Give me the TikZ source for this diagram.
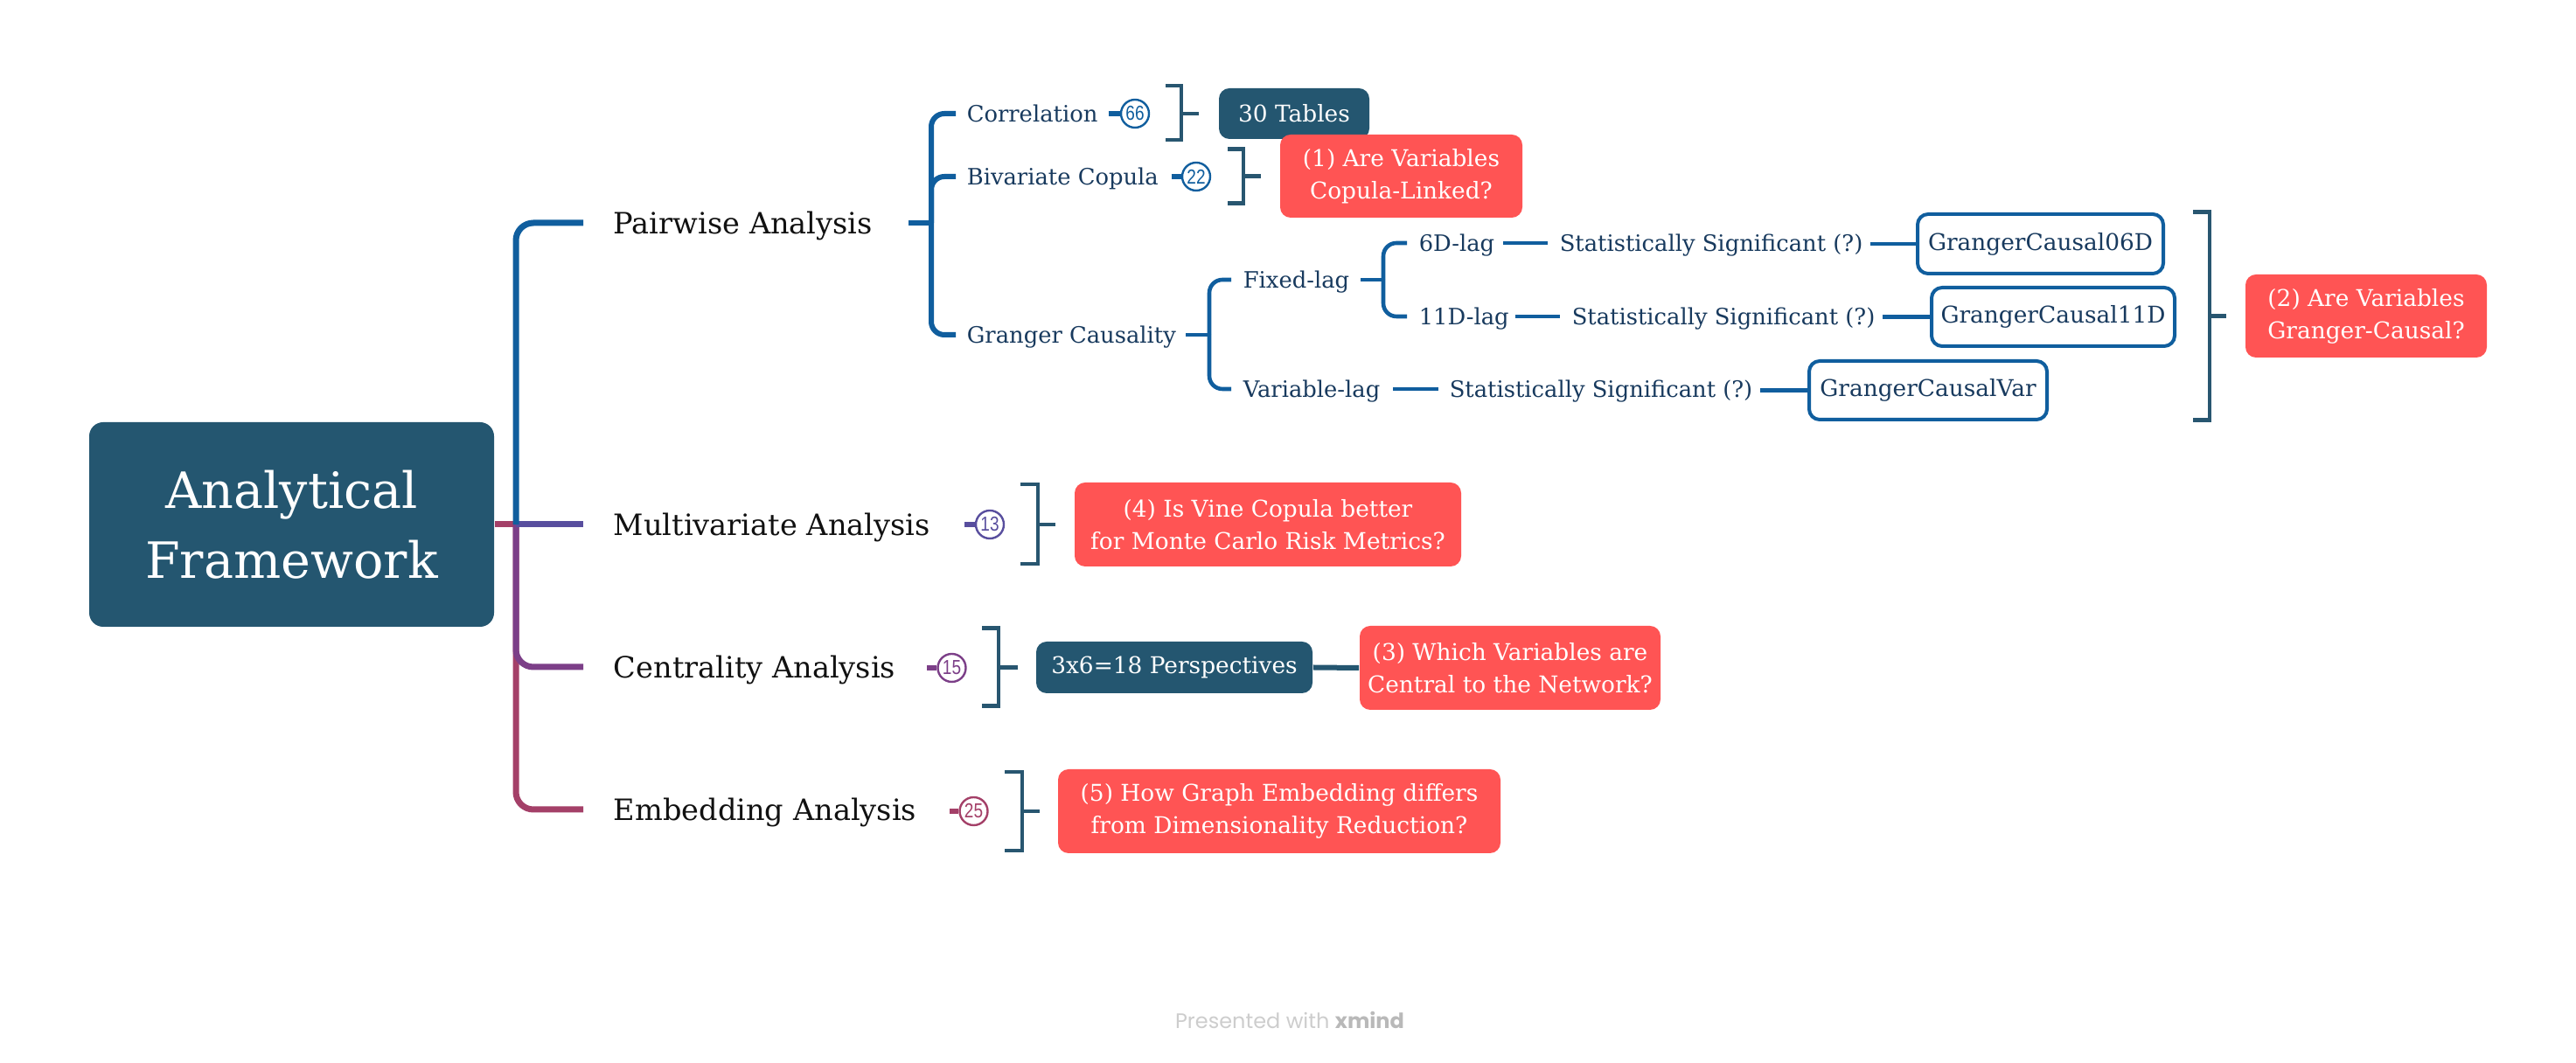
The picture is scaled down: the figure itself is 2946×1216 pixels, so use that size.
\documentclass[tikz,border=0pt]{standalone}
\usepackage{fontspec}
\setmainfont{DejaVu Serif}
\newfontfamily\badgefont{Liberation Sans}
\newfontfamily\footfont{Poppins}
\usetikzlibrary{calc}
\definecolor{cTeal}{RGB}{36,86,112}
\definecolor{cBlue}{RGB}{16,94,158}
\definecolor{cMul}{RGB}{88,78,158}
\definecolor{cCen}{RGB}{124,63,136}
\definecolor{cEmb}{RGB}{164,64,104}
\definecolor{cRed}{RGB}{255,84,84}
\definecolor{cBrk}{RGB}{40,86,112}
\definecolor{cSub}{RGB}{24,58,94}
\definecolor{cMain}{RGB}{17,17,17}
\definecolor{cFoot}{RGB}{205,205,205}
\definecolor{cFootB}{RGB}{185,185,185}
\newcommand\narrowdig[1]{\scalebox{0.82}[1]{#1}}
\begin{document}
\begin{tikzpicture}[x=0.25pt,y=-0.25pt,
  lbl/.style={anchor=west,inner sep=0pt,text depth=0pt},
  mainlbl/.style={lbl,text height=6.1pt,font=\fontsize{8.4pt}{10pt}\selectfont,text=cMain},
  sublbl/.style={lbl,text height=4.7pt,font=\fontsize{6.45pt}{8pt}\selectfont,text=cSub},
  darkbox/.style={fill=cTeal,rounded corners=3pt,text=white,inner sep=0pt,align=center,font=\fontsize{6.6pt}{9.25pt}\selectfont},
  redbox/.style={fill=cRed,rounded corners=3pt,text=white,inner sep=0pt,align=center,font=\fontsize{6.6pt}{9.25pt}\selectfont},
  outbox/.style={draw=cBlue,line width=1pt,fill=white,rounded corners=3pt,text=cSub,inner sep=0pt,align=center,font=\fontsize{6.6pt}{8pt}\selectfont},
  badge/.style={circle,draw,line width=0.6pt,fill=white,inner sep=0pt,minimum size=8pt,font=\badgefont\fontsize{5.8pt}{5.8pt}\selectfont},
  mainbr/.style={line width=1.75pt},
  subbr/.style={line width=1.5pt,draw=cBlue},
  gbr/.style={line width=1.15pt,draw=cBlue},
  brk/.style={line width=1.1pt,draw=cBrk},
  stub/.style={line width=1.5pt},
]
\useasboundingbox[fill=white] (0,0) rectangle (2946,1216);

% root
\node[fill=cTeal,rounded corners=4pt,minimum width=115.75pt,minimum height=58.5pt,inner sep=0pt,
  text=white,align=center,font=\fontsize{14.3pt}{20pt}\selectfont] (root) at (333.5,600) {Analytical\\Framework};

% main labels
\node[mainlbl] (pair) at (701,255) {Pairwise Analysis};
\node[mainlbl] (multi) at (701,600) {Multivariate Analysis};
\node[mainlbl] (cent) at (701,763) {Centrality Analysis};
\node[mainlbl] (emb) at (701,926) {Embedding Analysis};

% main branches
\coordinate (J) at (590,600);
\draw[mainbr,draw=cEmb] (root.east) -- (J);
\draw[mainbr,draw=cEmb,rounded corners=5pt] (J) |- ($(emb.west)+(-34,0)$);
\draw[mainbr,draw=cCen,rounded corners=5pt] (J) |- ($(cent.west)+(-34,0)$);
\draw[mainbr,draw=cMul] (J) -- ($(multi.west)+(-34,0)$);
\draw[mainbr,draw=cBlue,rounded corners=5pt] (J) |- ($(pair.west)+(-34,0)$);

% pairwise subtree
\node[sublbl] (corr) at (1105,130) {Correlation};
\node[sublbl] (biv) at (1105,202) {Bivariate Copula};
\node[sublbl] (gc) at (1105,383) {Granger Causality};
\coordinate (PJ) at (1065,255);
\draw[subbr] ($(PJ)+(-26,0)$) -- (PJ);
\draw[subbr,rounded corners=3.75pt] (PJ) |- ($(corr.west)+(-12,0)$);
\draw[subbr,rounded corners=3.75pt] (PJ) |- ($(biv.west)+(-12,0)$);
\draw[subbr,rounded corners=3.75pt] (PJ) |- ($(gc.west)+(-12,0)$);

% badges
\node[badge,draw=cBlue,text=cBlue] (b66) at (1298,130) {\narrowdig{66}};
\node[badge,draw=cBlue,text=cBlue] (b22) at (1368,202) {\narrowdig{22}};
\node[badge,draw=cMul,text=cMul] (b13) at (1132,600) {\narrowdig{13}};
\node[badge,draw=cCen,text=cCen] (b15) at (1088.5,764) {\narrowdig{15}};
\node[badge,draw=cEmb,text=cEmb] (b25) at (1113.5,928) {\narrowdig{25}};
\draw[stub,draw=cBlue] ($(b66.west)+(-13,0)$) -- (b66.west);
\draw[stub,draw=cBlue] ($(b22.west)+(-11,0)$) -- (b22.west);
\draw[stub,draw=cMul] ($(b13.west)+(-12,0)$) -- (b13.west);
\draw[stub,draw=cCen] ($(b15.west)+(-11,0)$) -- (b15.west);
\draw[stub,draw=cEmb] ($(b25.west)+(-10,0)$) -- (b25.west);

% granger subtree
\node[sublbl] (fixed) at (1421,320) {Fixed-lag};
\node[sublbl] (varlag) at (1421,445) {Variable-lag};
\node[sublbl] (d6) at (1622,278) {6D-lag};
\node[sublbl] (d11) at (1622,362) {11D-lag};
\node[sublbl] (ss6) at (1783,278) {Statistically Significant (?)};
\node[sublbl] (ss11) at (1797,362) {Statistically Significant (?)};
\node[sublbl] (ssv) at (1657,445) {Statistically Significant (?)};
\node[outbox,minimum width=70.25pt,minimum height=17pt] (g06) at (2333.5,279) {GrangerCausal06D};
\node[outbox,minimum width=69.5pt,minimum height=16.75pt] (g11) at (2348,362.5) {GrangerCausal11D};
\node[outbox,minimum width=68pt,minimum height=16.75pt] (gvar) at (2205,446.5) {GrangerCausalVar};

\coordinate (GJ) at (1383,383);
\draw[gbr] ($(GJ)+(-27,0)$) -- (GJ);
\draw[gbr,rounded corners=3.75pt] (GJ) |- ($(fixed.west)+(-13,0)$);
\draw[gbr,rounded corners=3.75pt] (GJ) |- ($(varlag.west)+(-13,0)$);
\coordinate (FJ) at (1582,320);
\draw[gbr] ($(FJ)+(-26,0)$) -- (FJ);
\draw[gbr,rounded corners=3.75pt] (FJ) |- ($(d6.west)+(-13,0)$);
\draw[gbr,rounded corners=3.75pt] (FJ) |- ($(d11.west)+(-13,0)$);
\draw[gbr] ($(d6.west)+(97,0)$) -- ($(ss6.west)+(-13,0)$);
\draw[gbr] ($(d11.west)+(111,0)$) -- ($(ss11.west)+(-13,0)$);
\draw[gbr] ($(varlag.west)+(172,0)$) -- ($(ssv.west)+(-12,0)$);
\draw[gbr] ($(g06.west)+(-52,0)$) -- (g06.west);
\draw[gbr] ($(g11.west)+(-54,0)$) -- (g11.west);
\draw[gbr] ($(gvar.west)+(-54,0)$) -- (gvar.west);

% result boxes
\node[darkbox,minimum width=43pt,minimum height=14.5pt] (tables) at (1480,130) {30 Tables};
\node[redbox,minimum width=69.25pt,minimum height=23.75pt] (q1) at (1602.5,201.5) {(1) Are Variables\\Copula-Linked?};
\node[redbox,minimum width=69pt,minimum height=23.75pt] (q2) at (2706,361.5) {(2) Are Variables\\Granger-Causal?};
\node[redbox,minimum width=110.5pt,minimum height=24pt] (q4) at (1450,600) {(4) Is Vine Copula better\\for Monte Carlo Risk Metrics?};
\node[darkbox,minimum width=79pt,minimum height=14.75pt] (persp) at (1343,763.5) {3x6=18 Perspectives};
\node[redbox,minimum width=86pt,minimum height=24pt] (q3) at (1727,764) {(3) Which Variables are\\Central to the Network?};
\node[redbox,minimum width=126.5pt,minimum height=24pt] (q5) at (1463,928) {(5) How Graph Embedding differs\\from Dimensionality Reduction?};
\draw[line width=1.5pt,draw=cTeal] (persp.east) -- (q3.west);

% brackets
\draw[brk] ($(tables.west)+(-60,-32)$) -| ($(tables.west)+(-42,30)$) -- ++(-18,0);
\draw[brk] ($(tables.west)+(-42,0)$) -- ($(tables.west)+(-22,0)$);
\draw[brk] ($(q1.west)+(-59,-31)$) -| ($(q1.west)+(-41,31)$) -- ++(-18,0);
\draw[brk] ($(q1.west)+(-41,0)$) -- ($(q1.west)+(-21,0)$);
\draw[brk] ($(q2.west)+(-59,-119)$) -| ($(q2.west)+(-40,119)$) -- ++(-19,0);
\draw[brk] ($(q2.west)+(-40,0)$) -- ($(q2.west)+(-21,0)$);
\draw[brk] ($(q4.west)+(-61,-46)$) -| ($(q4.west)+(-41,45)$) -- ++(-20,0);
\draw[brk] ($(q4.west)+(-41,0)$) -- ($(q4.west)+(-21,0)$);
\draw[brk] ($(persp.west)+(-61,-45)$) -| ($(persp.west)+(-42,44)$) -- ++(-19,0);
\draw[brk] ($(persp.west)+(-42,0)$) -- ($(persp.west)+(-20,0)$);
\draw[brk] ($(q5.west)+(-60,-45)$) -| ($(q5.west)+(-40,45)$) -- ++(-20,0);
\draw[brk] ($(q5.west)+(-40,0)$) -- ($(q5.west)+(-20,0)$);

% footer
\node[inner sep=0pt,font=\footfont\fontsize{6pt}{6pt}\selectfont] (foot) at (1475,1167) {\textcolor{cFoot}{Presented with} \textcolor{cFootB}{\textbf{xmind}}};
\end{tikzpicture}
\end{document}
